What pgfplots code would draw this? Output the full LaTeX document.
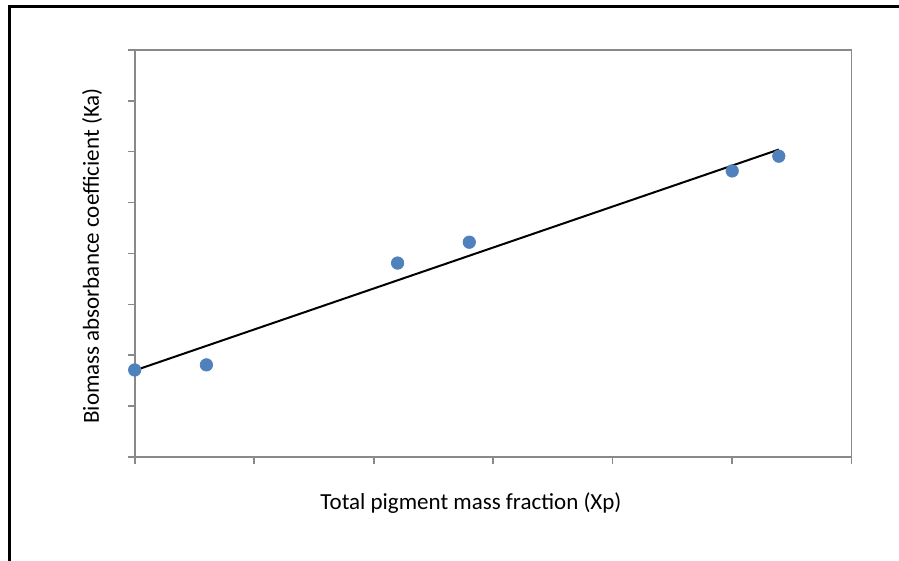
\documentclass[border=0pt]{standalone}
\usepackage{pgfplots}
\pgfplotsset{compat=1.18}
\usepackage{fontspec}
\setmainfont{Carlito}
\definecolor{excelblue}{HTML}{4F81BD}
\definecolor{axisgray}{HTML}{898989}
\begin{document}
\begin{tikzpicture}[x=1pt,y=1pt]
    % page is 899x561 px at 0.5pt per px
    \useasboundingbox (0,0) rectangle (449.5,280.5);
    % outer chart frame (left and top edges visible)
    \draw[line width=1.5pt, black, line cap=butt] (4.5,0) -- (4.5,277) -- (449.5,277);

    \begin{axis}[
        at={(67.35pt,52pt)},
        anchor=south west,
        scale only axis,
        width=358.5pt,
        height=203.6pt,
        xmin=0, xmax=6,
        ymin=0, ymax=8,
        xtick={0,1,2,3,4,5,6},
        ytick={0,1,2,3,4,5,6,7,8},
        xticklabels={},
        yticklabels={},
        xtick pos=bottom,
        ytick pos=left,
        tick align=outside,
        major tick length=3.5pt,
        tick style={axisgray, line width=0.8pt},
        axis line style={axisgray, line width=0.8pt},
        clip=false,
    ]

    % ---- measured points ----
    \addplot[only marks, mark=*, mark size=3.1pt,
             mark options={fill=excelblue, draw=excelblue}]
        coordinates {
            (0.00, 1.71) (0.60, 1.81) (2.20, 3.81)
            (2.80, 4.22) (5.00, 5.62) (5.39, 5.91)
        };

    % ---- linear trend line ----
    \addplot[black, line width=1pt]
        coordinates { (0.00, 1.70) (5.39, 6.04) };

    \end{axis}

    \node[font=\fontsize{11.5}{13}\selectfont] at (235.5,29) {Total pigment mass fraction (Xp)};
    \node[font=\fontsize{11.5}{13}\selectfont, rotate=90] at (46,152.5) {Biomass absorbance coefficient (Ka)};
\end{tikzpicture}
\end{document}
